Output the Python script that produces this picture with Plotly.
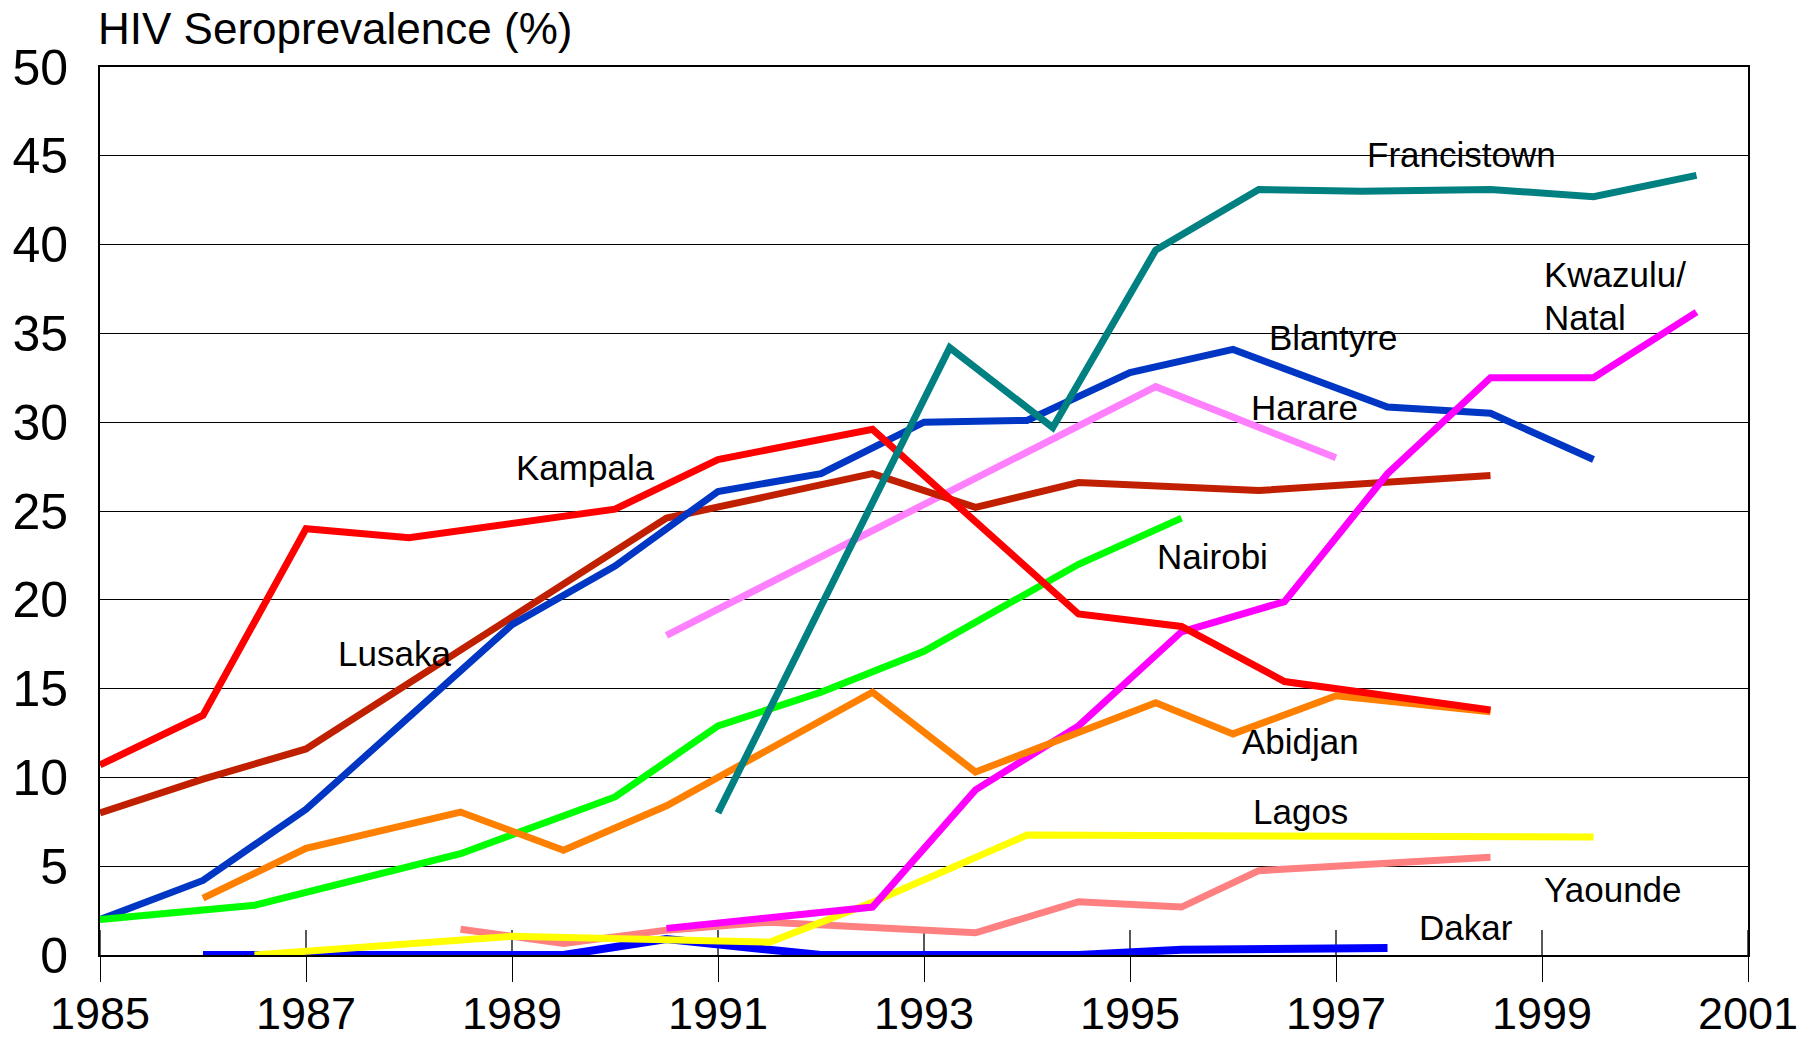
import plotly.graph_objects as go

# ---- data ----
kampala_x = [1985, 1986, 1987, 1988, 1990, 1991, 1992.5, 1994.5, 1995.5, 1996.5, 1998.5]
kampala_y = [10.7, 13.5, 24.0, 23.5, 25.1, 27.9, 29.6, 19.2, 18.5, 15.4, 13.8]

lusaka_x = [1985, 1986, 1987, 1990.5, 1992.5, 1993.5, 1994.5, 1996.25, 1998.5]
lusaka_y = [8.0, 9.9, 11.6, 24.6, 27.1, 25.2, 26.6, 26.15, 27.0]

blantyre_x = [1985, 1986, 1987, 1989, 1990, 1991, 1992, 1993, 1994, 1995, 1996, 1997.5, 1998.5, 1999.5]
blantyre_y = [2.0, 4.2, 8.2, 18.6, 21.9, 26.1, 27.1, 30.0, 30.1, 32.8, 34.1, 30.85, 30.5, 27.9]

nairobi_x = [1985, 1986.5, 1988.5, 1990, 1991, 1992, 1993, 1994.5, 1995.5]
nairobi_y = [2.0, 2.8, 5.7, 8.9, 12.9, 14.8, 17.1, 22.0, 24.6]

abidjan_x = [1986, 1987, 1988.5, 1989.5, 1990.5, 1992.5, 1993.5, 1995.25, 1996, 1997, 1998.5]
abidjan_y = [3.2, 6.0, 8.05, 5.9, 8.4, 14.8, 10.3, 14.2, 12.45, 14.6, 13.7]

francistown_x = [1991, 1993.25, 1994.25, 1995.25, 1996.25, 1997.25, 1998.5, 1999.5, 2000.5]
francistown_y = [8.0, 34.2, 29.7, 39.7, 43.1, 43.0, 43.1, 42.7, 43.9]

harare_x = [1990.5, 1995.25, 1997]
harare_y = [18.0, 32.0, 28.0]

kwazulu_x = [1990.5, 1992.5, 1993.5, 1994.5, 1995.5, 1996.5, 1997.5, 1998.5, 1999.5, 2000.5]
kwazulu_y = [1.5, 2.7, 9.3, 12.9, 18.2, 19.9, 27.1, 32.5, 32.5, 36.2]

lagos_x = [1986.5, 1989, 1991.5, 1992.5, 1994, 1999.5]
lagos_y = [0.0, 1.05, 0.72, 2.97, 6.75, 6.65]

yaounde_x = [1988.5, 1989.5, 1990.5, 1991.5, 1993.5, 1994.5, 1995.5, 1996.25, 1998.5]
yaounde_y = [1.45, 0.65, 1.4, 1.85, 1.25, 3.0, 2.7, 4.75, 5.5]

dakar_x = [1986, 1989.5, 1990.5, 1992, 1994.5, 1995.5, 1997.5]
dakar_y = [0.0, 0.0, 0.9, 0.0, 0.0, 0.3, 0.4]

x_ticks = [1985, 1987, 1989, 1991, 1993, 1995, 1997, 1999, 2001]
y_ticks = [0, 5, 10, 15, 20, 25, 30, 35, 40, 45, 50]

title_text = "HIV Seroprevalence (%)"

# label text and positions (layout)
labels = [
    ("Kampala", 1989.71, 27.36, "center"),
    ("Lusaka", 1987.86, 16.89, "center"),
    ("Francistown", 1998.22, 44.96, "center"),
    ("Kwazulu/", 1999.0, 38.20, "left"),
    ("Natal", 1999.0, 35.78, "left"),
    ("Blantyre", 1996.97, 34.66, "center"),
    ("Harare", 1996.69, 30.72, "center"),
    ("Nairobi", 1995.80, 22.30, "center"),
    ("Abidjan", 1996.66, 11.91, "center"),
    ("Lagos", 1996.66, 7.97, "center"),
    ("Yaounde", 1999.69, 3.58, "center"),
    ("Dakar", 1998.26, 1.44, "center"),
]

FONT = "Liberation Sans, Arial, Helvetica, sans-serif"

series = [
    ("Yaounde", yaounde_x, yaounde_y, "#FF8080", 7),
    ("Dakar", dakar_x, dakar_y, "#0000FF", 8),
    ("Lagos", lagos_x, lagos_y, "#FFFF00", 7),
    ("Harare", harare_x, harare_y, "#FF80FF", 7),
    ("Lusaka", lusaka_x, lusaka_y, "#C02000", 7),
    ("Blantyre", blantyre_x, blantyre_y, "#0036C4", 7),
    ("Kwazulu/Natal", kwazulu_x, kwazulu_y, "#FF00FF", 7),
    ("Nairobi", nairobi_x, nairobi_y, "#00FF00", 7),
    ("Abidjan", abidjan_x, abidjan_y, "#FF8000", 7),
    ("Kampala", kampala_x, kampala_y, "#FF0000", 7),
    ("Francistown", francistown_x, francistown_y, "#008080", 7),
]

fig = go.Figure()
for name, xs, ys, color, w in series:
    fig.add_trace(go.Scatter(x=xs, y=ys, mode="lines", name=name,
                             line=dict(color=color, width=w),
                             showlegend=False, hoverinfo="skip"))

for text, lx, ly, al in labels:
    fig.add_annotation(x=lx, y=ly, xref="x", yref="y", text=text, showarrow=False,
                       xanchor="left" if al == "left" else "center", align=al,
                       yanchor="middle", yshift=2,
                       font=dict(family=FONT, size=35, color="black"))

fig.add_annotation(x=0, y=1.0434, xref="paper", yref="paper", text=title_text,
                   showarrow=False, xanchor="left", yanchor="middle", xshift=-4,
                   font=dict(family=FONT, size=44, color="black"))

# inner half of the crossing x ticks
for t in x_ticks:
    fig.add_shape(type="line", xref="x", yref="y", x0=t, x1=t,
                  ysizemode="pixel", yanchor=0, y0=0, y1=25,
                  line=dict(color="black", width=1.3), layer="below")

fig.update_layout(
    width=1800, height=1040,
    margin=dict(l=100, r=52, t=67, b=85),
    paper_bgcolor="white", plot_bgcolor="white",
    font=dict(family=FONT, color="black"),
)
fig.update_xaxes(range=[1985, 2001], tickvals=x_ticks, ticktext=[str(t) for t in x_ticks],
                 showgrid=False, zeroline=False, ticks="outside", ticklen=25,
                 tickwidth=1.3, tickcolor="black", showline=True, linecolor="black",
                 linewidth=2, mirror=True, tickfont=dict(size=45, family=FONT),
                 ticklabelstandoff=-7, automargin=False)
fig.update_yaxes(range=[0, 50], tickvals=y_ticks, showgrid=True, gridcolor="black",
                 gridwidth=1.3, zeroline=False, ticks="", showline=True,
                 linecolor="black", linewidth=2, mirror=True,
                 tickfont=dict(size=50, family=FONT), ticklabelstandoff=20,
                 automargin=False)

fig.write_html("out.html", config={"displayModeBar": False},
               post_script="document.body.style.margin='0px';document.body.style.overflow='hidden';")
